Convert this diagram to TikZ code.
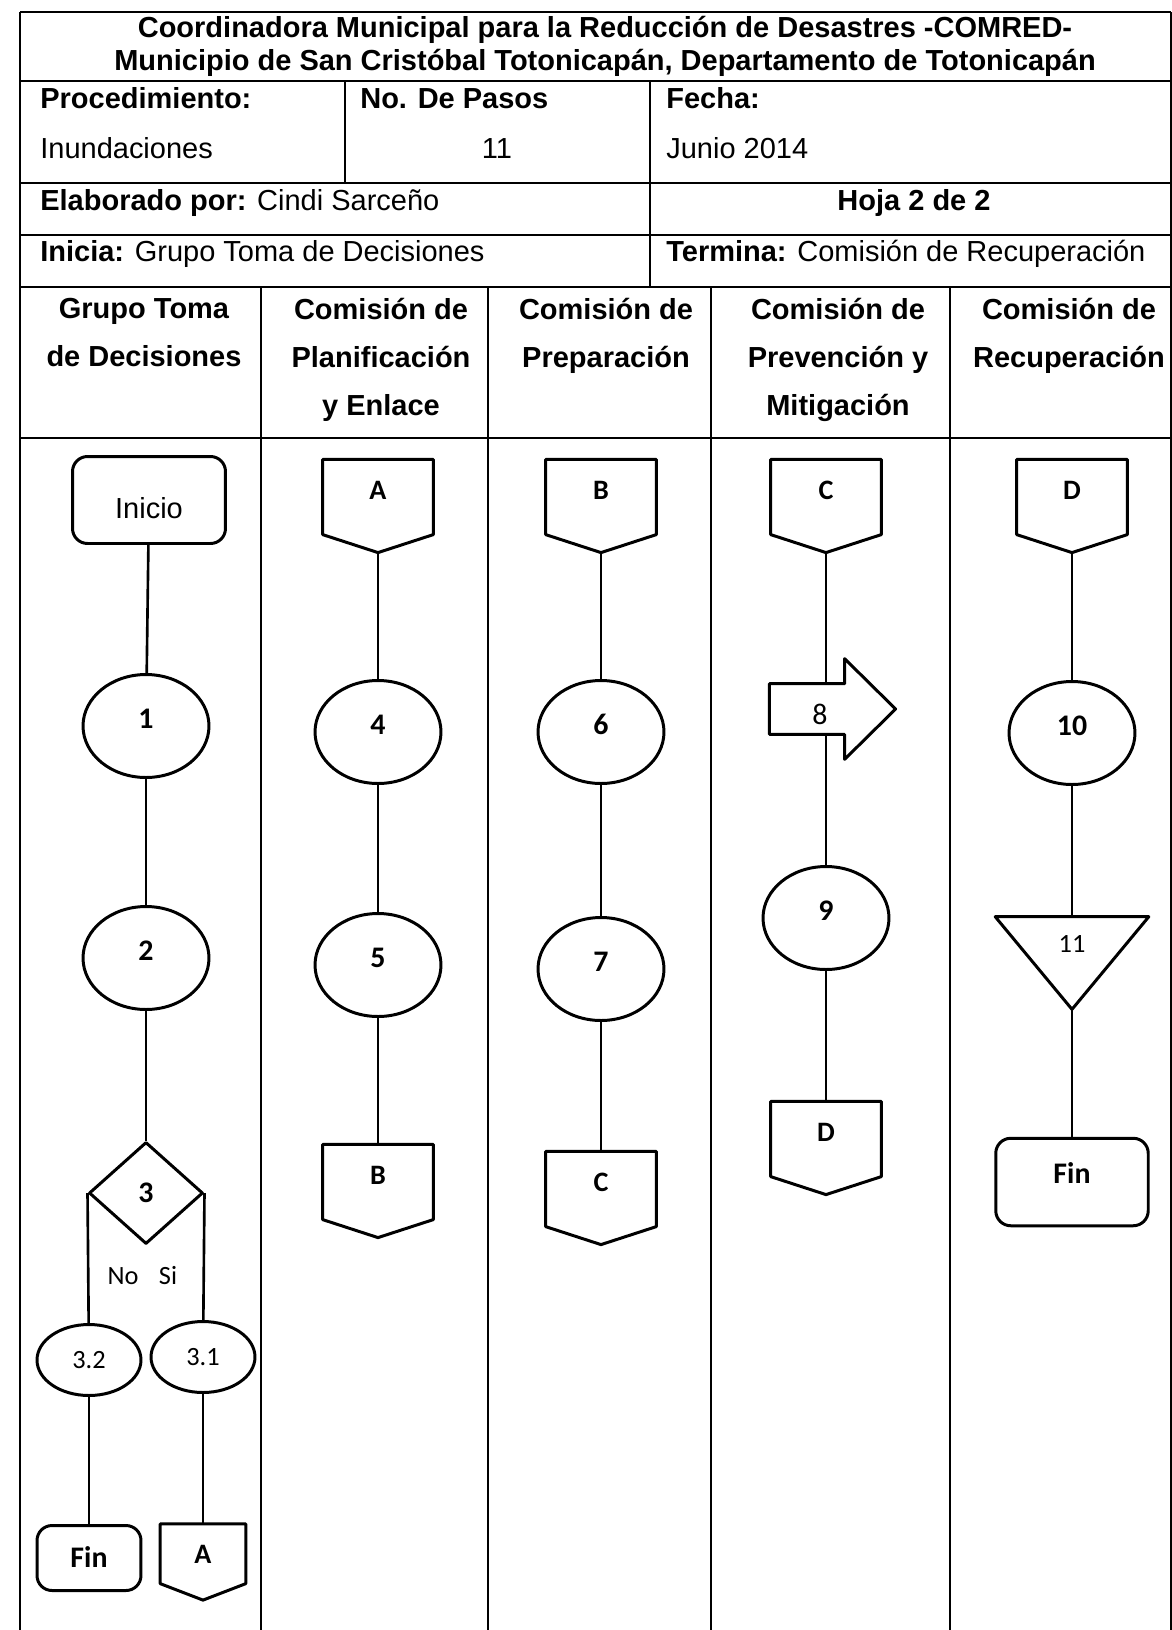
\documentclass[tikz,border=0pt]{standalone}
\usepackage{fontspec}
\setmainfont{Liberation Sans}
\newfontfamily\calibri{Carlito}
\usepackage{tikz}
\usetikzlibrary{positioning}
\usetikzlibrary{shapes.geometric}

\tikzstyle{tablerule} = [line width=1.1pt]
\tikzstyle{lanerule} = [line width=0.85pt]
\tikzstyle{shapeborder} = [line width=1.7pt, line join=round]
\tikzstyle{link} = [line width=1.5pt]
\tikzstyle{cell} = [inner sep=0pt, anchor=base west, font=\fontsize{16.5}{19}\selectfont]
\tikzstyle{lanehead} = [inner sep=0pt, anchor=north, align=center, font=\bfseries\fontsize{16.5}{27.2}\selectfont]
\tikzstyle{stepnode} = [draw, shapeborder, ellipse, minimum width=2.52cm, minimum height=2.06cm, inner sep=0pt, text height=0.38cm, text depth=0.28cm, font=\calibri\bfseries\fontsize{17}{17}\selectfont]
\tikzstyle{substep} = [draw, shapeborder, ellipse, minimum width=2.08cm, minimum height=1.42cm, inner sep=0pt, font=\calibri\fontsize{15}{15}\selectfont]
\tikzstyle{terminal} = [draw, shapeborder, rounded corners=0.3cm, inner sep=0pt, text height=0.385cm, font=\calibri\bfseries\fontsize{17}{17}\selectfont]
\tikzstyle{decision} = [draw, shapeborder, diamond, minimum width=2.28cm, minimum height=2.04cm, inner sep=0pt, font=\calibri\bfseries\fontsize{17}{17}\selectfont]
\tikzstyle{offpage} = [inner sep=0pt, minimum width=2.2cm, minimum height=1.85cm, text height=0.36cm, text depth=0.64cm, font=\calibri\bfseries\fontsize{16}{16}\selectfont]
\tikzstyle{yesno} = [inner sep=0pt, font=\calibri\fontsize{15}{15}\selectfont]

\begin{document}
\begin{tikzpicture}[x=0.02cm, y=-0.02cm]
\useasboundingbox (0,0) rectangle (1172,1630);

% encabezado del procedimiento
\draw[tablerule, line width=1.5pt] (20,12) -- (1171,12);
\draw[tablerule] (20,12) -- (20,1630);
\draw[tablerule] (1171,12) -- (1171,1630);
\foreach \y in {81,183,235,287,438}
  \draw[tablerule] (20,\y) -- (1171,\y);
\draw[tablerule] (345,81) -- (345,183);
\draw[tablerule] (650,81) -- (650,287);
\foreach \x in {261,488,711,950}
  \draw[lanerule] (\x,287) -- (\x,1630);

\node[inner sep=0pt, anchor=north, align=center, font=\bfseries\fontsize{16.5}{19}\selectfont] (title) at (605,16)
  {Coordinadora Municipal para la Reducción de Desastres -COMRED-\\
   Municipio de San Cristóbal Totonicapán, Departamento de Totonicapán};
\node[cell] (proc) at (40,108) {\textbf{Procedimiento:}};
\node[cell] (procval) at (40,158) {Inundaciones};
\node[cell] (pasos) at (360,108) {\textbf{No. De Pasos}};
\node[cell, anchor=base] (pasosval) at (497,158) {11};
\node[cell] (fecha) at (666,108) {\textbf{Fecha:}};
\node[cell] (fechaval) at (666,158) {Junio 2014};
\node[cell] (autor) at (40,210) {\textbf{Elaborado por:} Cindi Sarceño};
\node[cell, anchor=base] (hoja) at (914,210) {\textbf{Hoja 2 de 2}};
\node[cell] (inicia) at (40,261) {\textbf{Inicia:} Grupo Toma de Decisiones};
\node[cell] (termina) at (666,261) {\textbf{Termina:} Comisión de Recuperación};

% carriles
\node[lanehead] (lane1) at (144,298) {Grupo Toma\\de Decisiones};
\node[lanehead] (lane2) at (381,298) {Comisión de\\Planificación\\y Enlace};
\node[lanehead] (lane3) at (606,298) {Comisión de\\Preparación};
\node[lanehead] (lane4) at (838,298) {Comisión de\\Prevención y\\Mitigación};
\node[lanehead] (lane5) at (1069,298) {Comisión de\\Recuperación};

% Grupo Toma de Decisiones
\node[terminal, minimum width=3.06cm, minimum height=1.74cm, text height=0.76cm, font=\fontsize{16.5}{16.5}\selectfont] (ini) at (149,500) {Inicio};
\node[stepnode] (s1) at (146,726) {1};
\node[stepnode] (s2) at (146,958) {2};
\node[decision] (s3) at (146,1193) {3};
\node[substep] (s32) at (89,1360) {3.2};
\node[substep] (s31) at (203,1357) {3.1};
\node[yesno] (no) at (123,1276) {No};
\node[yesno] (si) at (168,1276) {Si};
\node[terminal, minimum width=2.08cm, minimum height=1.3cm] (fin1) at (89,1558) {Fin};
\node[offpage, minimum width=1.7cm, minimum height=1.51cm, text depth=0.29cm] (outA) at (203,1562) {A};

% Planificacion y Enlace
\node[offpage] (inA) at (378,506) {A};
\node[stepnode] (s4) at (378,732) {4};
\node[stepnode] (s5) at (378,965) {5};
\node[offpage] (outB) at (378,1191) {B};

% Preparacion
\node[offpage] (inB) at (601,506) {B};
\node[stepnode] (s6) at (601,732) {6};
\node[stepnode] (s7) at (601,969) {7};
\node[offpage] (outC) at (601,1198) {C};

% Prevencion y Mitigacion
\node[offpage] (inC) at (826,506) {C};
\node[inner sep=0pt, minimum width=1.49cm, minimum height=1cm, text height=0.62cm, font=\calibri\fontsize{17}{17}\selectfont] (s8) at (807,709) {\hspace*{0.52cm}8};
\node[stepnode] (s9) at (826,918) {9};
\node[offpage] (outD) at (826,1148) {D};

% Recuperacion
\node[offpage] (inD) at (1072,506) {D};
\node[stepnode] (s10) at (1072,733) {10};
\node[inner sep=0pt, minimum width=3.06cm, minimum height=1.84cm, text height=0.33cm, text depth=0.74cm, font=\calibri\fontsize{15}{15}\selectfont] (s11) at (1072,963) {11};
\node[terminal, minimum width=3.05cm, minimum height=1.75cm, text depth=0.34cm] (fin2) at (1072,1182) {Fin};

% contornos de conectores, flecha y triangulo
\foreach \nd/\tip in {inA/0.36cm, outB/0.36cm, inB/0.36cm, outC/0.36cm, inC/0.36cm, outD/0.36cm, inD/0.36cm, outA/0.33cm}
  \draw[shapeborder] (\nd.north west) -- (\nd.north east) -- ([yshift=\tip]\nd.south east)
    -- (\nd.south) -- ([yshift=\tip]\nd.south west) -- cycle;
\draw[shapeborder] (s8.north west) -- (s8.north east) -- ([yshift=0.5cm]s8.north east)
  -- ([xshift=1.02cm]s8.east) -- ([yshift=-0.5cm]s8.south east) -- (s8.south east) -- (s8.south west) -- cycle;
\draw[shapeborder] (s11.north west) -- (s11.north east) -- (s11.south) -- cycle;

% lineas de flujo
\draw[link] (ini) -- (s1);
\draw[link] (s1) -- (s2);
\draw[link] (s2) -- (s3);
\draw[link] (s3.west) -- (s32);
\draw[link] (s3.east) -- (s31);
\draw[link] (s32) -- (fin1);
\draw[link] (s31) -- (outA);
\draw[link] (inA) -- (s4);
\draw[link] (s4) -- (s5);
\draw[link] (s5) -- (outB);
\draw[link] (inB) -- (s6);
\draw[link] (s6) -- (s7);
\draw[link] (s7) -- (outC);
\draw[link] (inC) -- (inC |- s8.north);
\draw[link] (inC |- s8.south) -- (s9);
\draw[link] (s9) -- (outD);
\draw[link] (inD) -- (s10);
\draw[link] (s10) -- (s11);
\draw[link] (s11) -- (fin2);
\end{tikzpicture}
\end{document}
